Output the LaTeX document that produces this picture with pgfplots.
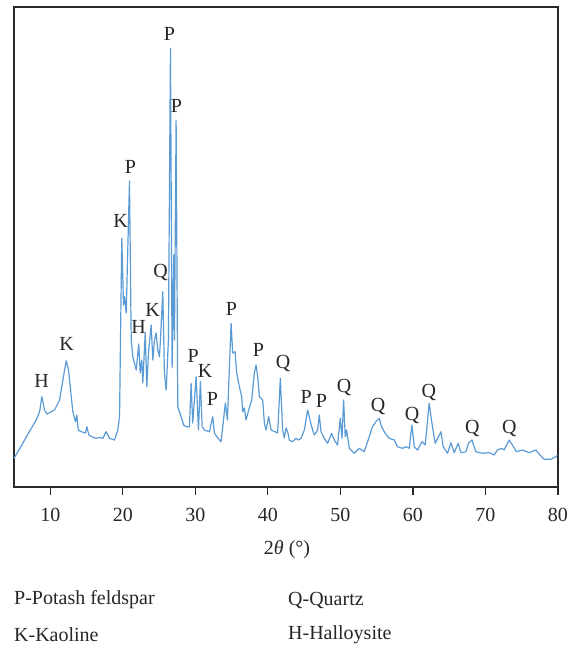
\documentclass[border=0pt]{standalone}
\usepackage{pgfplots}
\pgfplotsset{compat=1.18}
\usepackage{fontspec}
\setmainfont{Liberation Serif}
\definecolor{xrd}{RGB}{91,155,213}
\definecolor{axc}{RGB}{40,40,40}
\begin{document}
\fontsize{20bp}{24bp}\selectfont
\begin{tikzpicture}
\path[use as bounding box] (0,0) rectangle (575bp,-645bp);
\begin{axis}[
  at={(14bp,-7bp)}, anchor=north west,
  scale only axis, width=544bp, height=480bp,
  xmin=5, xmax=80, ymin=0, ymax=480,
  ytick=\empty,
  xtick={10,20,...,80},
  xtick pos=bottom, tick align=outside, major tick length=8bp,
  tick style={line width=1.2bp, axc},
  axis line style={line width=1.2bp, axc},
  /pgf/number format/assume math mode=true,
  xticklabel style={font=\fontsize{20bp}{24bp}\selectfont, yshift=-6bp, text=black!85},
  clip=false,
]
\addplot[xrd, line width=1.2bp, line join=round] coordinates {
(5.00,28.7) (6.0,41) (7.0,54) (8.07,67) (8.53,75.3) (8.84,90.3) (9.21,77) (9.55,73) (9.90,74.3) (10.59,77)
(11.28,87) (11.74,107) (12.20,126.3) (12.52,117) (12.80,97) (13.11,75.3)
(13.48,65.3) (13.66,72) (13.86,57) (14.27,55.3) (14.86,54) (15.04,60.3)
(15.32,52) (15.8,50) (16.34,48.7) (16.8,49.5) (17.25,48.7) (17.71,55.3) (18.17,48.7) (18.86,47)
(19.31,57) (19.55,70.3) (19.86,248.7) (20.10,182) (20.23,190.3) (20.47,174)
(20.92,306) (21.06,214) (21.16,147) (21.38,130.3) (21.85,117) (22.20,143)
(22.40,114) (22.62,127) (22.76,104) (23.09,154) (23.31,100.3) (23.54,134)
(23.91,162) (24.14,127) (24.37,147) (24.60,154) (24.82,137) (25.05,130.3)
(25.19,147) (25.51,195.3) (25.74,114) (25.98,97) (26.29,147) (26.57,438.7)
(26.80,119) (27.02,232) (27.12,147) (27.35,367) (27.58,80.3) (28.04,70.3)
(28.40,62) (28.73,60.3) (29.19,60.3) (29.42,103.7) (29.64,64) (30.11,110.3) (30.43,57)
(30.70,105.3) (30.94,60.3) (31.25,57) (31.94,55.3) (32.40,70.3) (32.63,54)
(33.09,49) (33.55,45.3) (34.14,84) (34.42,67) (34.93,163.7) (35.15,134)
(35.48,135.3) (35.70,114) (36.07,100.3) (36.39,90.3) (36.53,75.3) (36.76,79)
(36.99,67) (37.36,77) (37.77,87) (38.14,114) (38.37,122) (38.60,110.3)
(38.83,90.3) (39.28,87) (39.52,64) (39.75,57) (40.11,70.3) (40.44,57)
(41.35,54) (41.72,108.7) (42.04,57) (42.27,49) (42.50,59) (42.73,55.3)
(42.96,47) (43.42,45.3) (43.88,48.7) (44.2,47) (44.57,48.7) (45.03,57) (45.48,77)
(45.81,67) (46.17,57) (46.41,52) (46.86,57) (47.09,72) (47.33,55.3)
(47.78,48.7) (48.24,43.7) (48.79,53.7) (49.16,47) (49.61,42) (49.98,68.7)
(50.22,48.7) (50.44,87) (50.67,50.3) (50.85,57) (51.23,38.7) (51.91,33.7)
(52.60,38.7) (53.29,35.3) (53.98,50.3) (54.43,60.3) (54.90,65.3) (55.36,68.7)
(55.67,60.3) (56.18,53.7) (56.73,48.7) (57.42,47) (57.88,40.3) (58.57,38.7)
(59.04,40.3) (59.49,38.7) (59.86,62) (60.18,40.3) (60.64,37) (61.24,45.3)
(61.69,42) (62.24,83.7) (62.62,63.7) (63.07,43.7) (63.53,50.3) (63.86,55.3)
(64.17,40.3) (64.77,33.7) (65.23,44.3) (65.69,34.3) (66.24,43.7) (66.61,34.3)
(67.30,35.3) (67.66,43.7) (68.13,47) (68.68,35.3) (69.59,33.7) (70.51,34.3)
(71.20,32) (71.65,37) (72.26,38.7) (72.58,37) (73.26,47) (73.72,42)
(74.27,35.3) (75.10,37) (76.02,34.3) (76.94,37) (77.40,33) (78.09,27.7)
(79.01,27.7) (79.70,30.3) (79.92,32)
};
\begin{scope}[every node/.style={font=\fontsize{20bp}{24bp}\selectfont, inner sep=0pt, text=black!85}]
\node at (axis cs:8.80,106) {H};
\node at (axis cs:12.24,143) {K};
\node at (axis cs:19.70,266) {K};
\node at (axis cs:21.06,320) {P};
\node at (axis cs:22.17,160) {H};
\node at (axis cs:24.10,177) {K};
\node at (axis cs:25.20,215) {Q};
\node at (axis cs:26.43,453) {P};
\node at (axis cs:27.40,381) {P};
\node at (axis cs:29.70,131) {P};
\node at (axis cs:31.35,116) {K};
\node at (axis cs:32.35,88) {P};
\node at (axis cs:34.97,178) {P};
\node at (axis cs:38.70,137) {P};
\node at (axis cs:42.10,124) {Q};
\node at (axis cs:45.30,90) {P};
\node at (axis cs:47.40,86) {P};
\node at (axis cs:50.50,100) {Q};
\node at (axis cs:55.20,81) {Q};
\node at (axis cs:59.90,72) {Q};
\node at (axis cs:62.20,95) {Q};
\node at (axis cs:68.20,59) {Q};
\node at (axis cs:73.30,59) {Q};
\end{scope}
\end{axis}
\node[text=black!85] at (287bp,-550bp) {2\textit{θ} (°)};
\begin{scope}[every node/.style={text=black!85, anchor=west, inner sep=0pt}]
\node at (14bp,-600bp) {P-Potash feldspar};
\node at (288bp,-600bp) {Q-Quartz};
\node at (14bp,-635bp) {K-Kaoline};
\node at (288bp,-635bp) {H-Halloysite};
\end{scope}
\end{tikzpicture}
\end{document}
